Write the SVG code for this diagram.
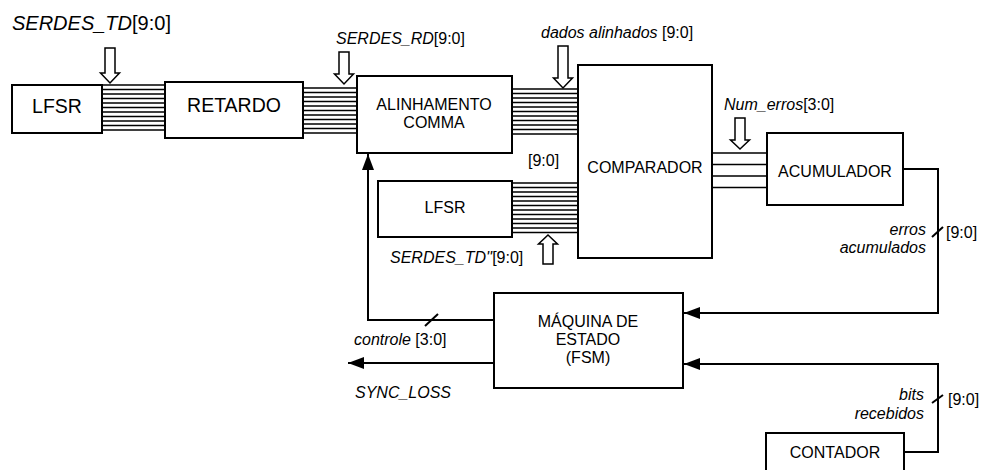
<svg xmlns="http://www.w3.org/2000/svg" width="982" height="470" viewBox="0 0 982 470">
<style>
.box{fill:#fff;stroke:#000;stroke-width:2}
.t{font-family:"Liberation Sans",Arial,sans-serif;font-size:16px;fill:#000}
.big{font-size:19.5px}
.top{font-size:20px}
.c{text-anchor:middle}
.r{text-anchor:end}
.i{font-style:italic}
.w{fill:none;stroke:#000;stroke-width:2}
.bus{stroke:#000;stroke-width:1.5}
.ha{fill:#fff;stroke:#000;stroke-width:1.5}
</style>
<defs>
<marker id="ah" viewBox="0 0 16 12" refX="16" refY="6" markerWidth="16" markerHeight="12" markerUnits="userSpaceOnUse" orient="auto">
<path d="M0,0 L16,6 L0,12 Z" fill="#000"/>
</marker>
</defs>

<g id="connectors">
<path class="bus" d="M102,85H165M102,89.5H165M102,94H165M102,98.5H165M102,103H165M102,107.5H165M102,112H165M102,116.5H165M102,121H165M102,125.5H165M102,130H165"/>
<path class="bus" d="M303,88H357M303,92.5H357M303,97H357M303,101.5H357M303,106H357M303,110.5H357M303,115H357M303,119.5H357M303,124H357M303,128.5H357M303,133H357"/>
<path class="bus" d="M512,89H578M512,93.5H578M512,98H578M512,102.5H578M512,107H578M512,111.5H578M512,116H578M512,120.5H578M512,125H578M512,129.5H578M512,134H578"/>
<path class="bus" d="M512,183H578M512,187.5H578M512,192H578M512,196.5H578M512,201H578M512,205.5H578M512,210H578M512,214.5H578M512,219H578M512,223.5H578M512,228H578M512,232.5H578"/>
<path class="bus" d="M712,153H767M712,164.5H767M712,176H767M712,187.5H767"/>
<path class="ha" d="M105,48H115V73H119.5L110,83L100.5,73H105Z"/>
<path class="ha" d="M339,52H349V74H353.5L344,84L334.5,74H339Z"/>
<path class="ha" d="M558,46H568V78H572.5L563,88L553.5,78H558Z"/>
<path class="ha" d="M735,118H745V140H749.5L740,149L730.5,140H735Z"/>
<path class="ha" d="M543,264H553V244H557.5L548,235L538.5,244H543Z"/>
<path class="w" d="M903,169H938V313H684" marker-end="url(#ah)"/>
<path class="w" d="M904,452H938V364H684" marker-end="url(#ah)"/>
<path class="w" d="M494,320H368V154" marker-end="url(#ah)"/>
<path class="w" d="M494,363H348" marker-end="url(#ah)"/>
<path class="w" d="M425,326L438,314"/>
<path class="w" d="M932,237L943,227"/>
<path class="w" d="M932,403L943,395"/>
</g>

<g id="lfsr1"><rect class="box" x="12" y="85" width="90" height="48"/><text class="t big c" x="57" y="113">LFSR</text></g>
<g id="retardo"><rect class="box" x="165" y="82" width="138" height="56"/><text class="t big c" x="234" y="112">RETARDO</text></g>
<g id="alinhamento"><rect class="box" x="357" y="76" width="155" height="77"/><text class="t c" x="434" y="110">ALINHAMENTO</text><text class="t c" x="434" y="128">COMMA</text></g>
<g id="lfsr2"><rect class="box" x="378" y="181" width="134" height="56"/><text class="t c" x="445" y="213">LFSR</text></g>
<g id="comparador"><rect class="box" x="578" y="65" width="134" height="193"/><text class="t c" x="645" y="173">COMPARADOR</text></g>
<g id="acumulador"><rect class="box" x="767" y="133" width="136" height="72"/><text class="t c" x="835" y="177">ACUMULADOR</text></g>
<g id="fsm"><rect class="box" x="494" y="293" width="189" height="95"/><text class="t c" x="588" y="327">MÁQUINA DE</text><text class="t c" x="588" y="345">ESTADO</text><text class="t c" x="588" y="363">(FSM)</text></g>
<g id="contador"><rect class="box" x="766" y="433" width="138" height="45"/><text class="t c" x="835" y="458">CONTADOR</text></g>

<g id="labels">
<text class="t top" x="12" y="30"><tspan class="i">SERDES_TD</tspan>[9:0]</text>
<text class="t" x="336" y="44"><tspan class="i">SERDES_RD</tspan>[9:0]</text>
<text class="t" x="541" y="38"><tspan class="i">dados alinhados</tspan> [9:0]</text>
<text class="t" x="528" y="166">[9:0]</text>
<text class="t" x="390" y="263"><tspan class="i">SERDES_TD''</tspan>[9:0]</text>
<text class="t" x="724" y="110"><tspan class="i">Num_erros</tspan>[3:0]</text>
<text class="t i r" x="926" y="235">erros</text>
<text class="t i r" x="926" y="253">acumulados</text>
<text class="t" x="946" y="238">[9:0]</text>
<text class="t i r" x="924" y="400">bits</text>
<text class="t i r" x="924" y="419">recebidos</text>
<text class="t" x="948" y="405">[9:0]</text>
<text class="t" x="354" y="345"><tspan class="i">controle</tspan> [3:0]</text>
<text class="t i" x="355" y="398">SYNC_LOSS</text>
</g>
</svg>
